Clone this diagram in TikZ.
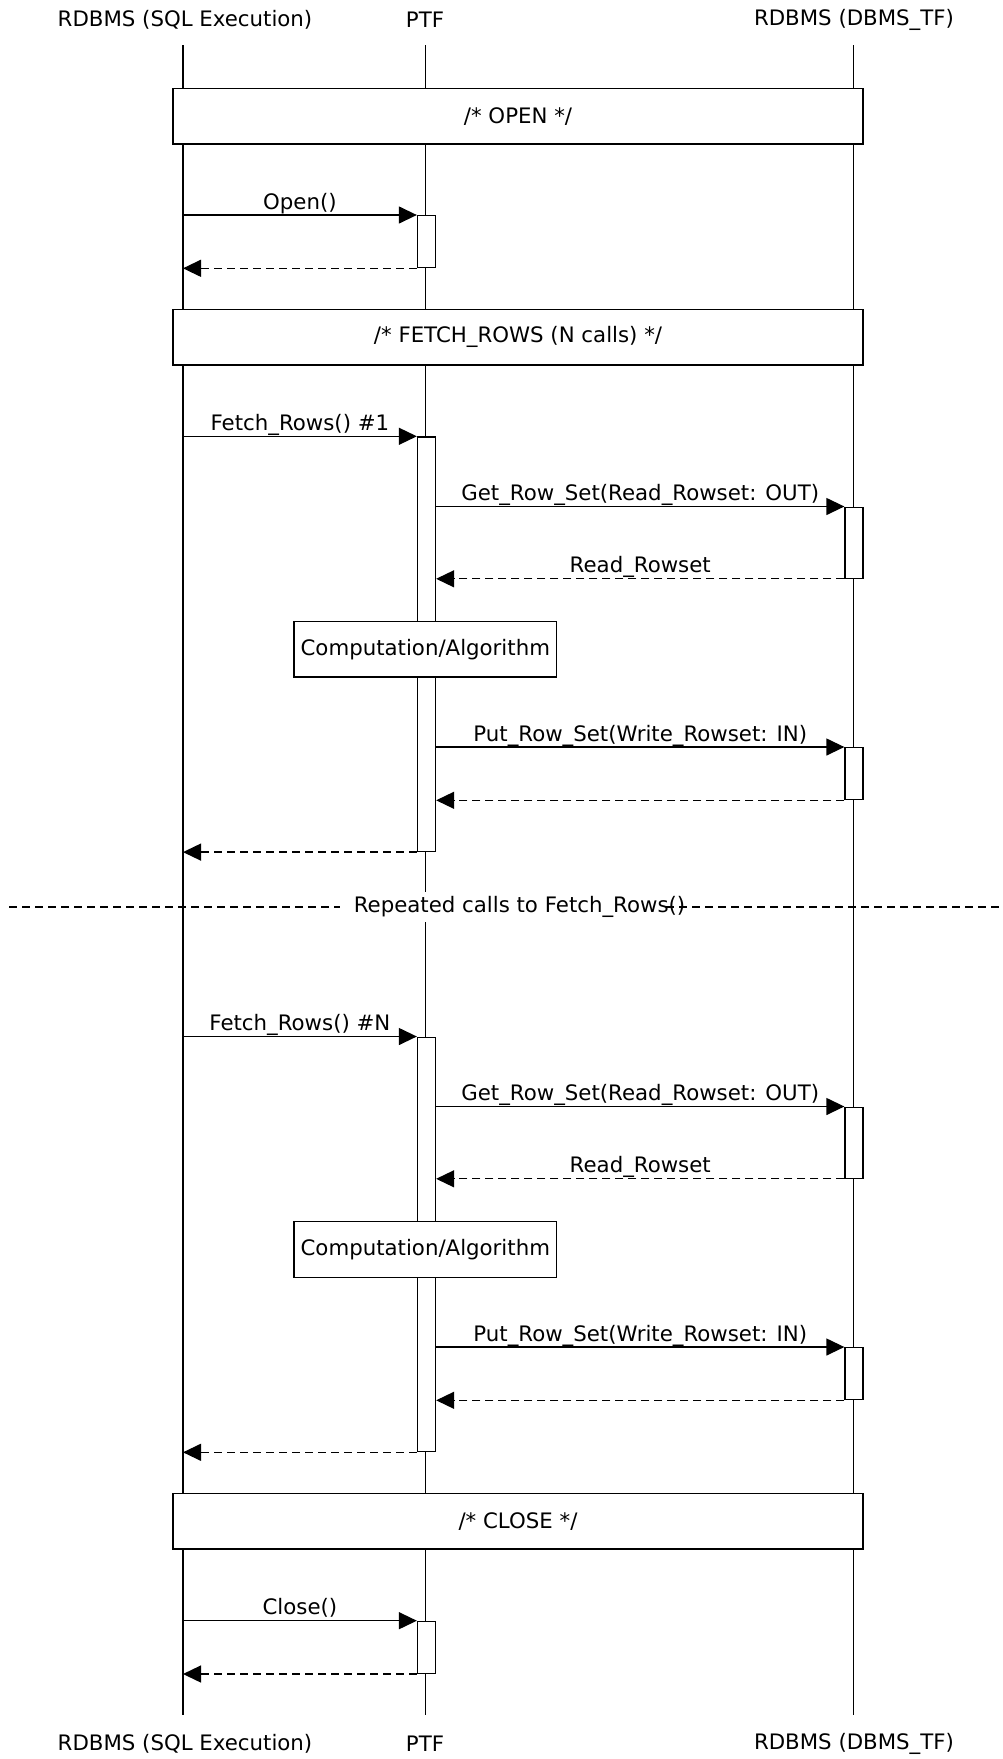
\documentclass[tikz,border=0pt]{standalone}
\usepackage{fontspec}
\setmainfont{DejaVu Sans}
\usetikzlibrary{arrows.meta}
\begin{document}
\begin{tikzpicture}[x=1pt,y=-1pt,
  every node/.style={font=\fontsize{21.3}{25}\selectfont},
  lbl/.style={inner sep=0pt},
  msg/.style={midway, anchor=base, yshift=6pt, inner sep=0pt},
  life/.style={line width=1.3pt},
  act/.style={draw, fill=white, line width=1.3pt, minimum width=18pt, inner sep=0pt, anchor=north},
  framebox/.style={draw, fill=white, line width=1.3pt, minimum width=690pt, minimum height=55.5pt, inner sep=0pt},
  compbox/.style={draw, fill=white, line width=1.3pt, minimum width=262.5pt, minimum height=55.5pt, inner sep=0pt},
  call/.style={line width=1.3pt, -{Triangle[length=18pt,width=17pt]}},
  ret/.style={call, dash pattern=on 8pt off 5pt},
  sepline/.style={line width=1.3pt, dash pattern=on 8pt off 5pt}
]
\useasboundingbox (0,0) rectangle (1003,1759);

% headers
\node[lbl] (hA) at (185,19.5) {RDBMS (SQL Execution)};
\node[lbl] (hB) at (425,19.5) {PTF};
\node[lbl] (hC) at (854,19.5) {RDBMS (DBMS\_TF)};
\node[lbl] (fA) at (185,1744) {RDBMS (SQL Execution)};
\node[lbl] (fB) at (425,1744) {PTF};
\node[lbl] (fC) at (854,1744) {RDBMS (DBMS\_TF)};

% lifelines
\coordinate (la0) at (183,45);   \coordinate (la1) at (183,1715);
\coordinate (lb0) at (425.5,45); \coordinate (lb1) at (425.5,1715);
\coordinate (lc0) at (853.5,45); \coordinate (lc1) at (853.5,1715);
\draw[life] (la0) -- (la1);
\draw[life] (lb0) -- (lb1);
\draw[life] (lc0) -- (lc1);

% activations
\node[act, minimum height=52pt]  (a1) at (426.5,215) {};
\node[act, minimum height=414.5pt] (a2) at (426.5,436.3) {};
\node[act, minimum height=71pt]  (a3) at (854,506.5) {};
\node[act, minimum height=52pt]  (a4) at (854,747) {};
\node[act, minimum height=414.5pt] (a5) at (426.5,1036.5) {};
\node[act, minimum height=71pt]  (a6) at (854,1106.5) {};
\node[act, minimum height=52pt]  (a7) at (854,1347) {};
\node[act, minimum height=52pt]  (a8) at (426.5,1620.7) {};

% frames
\node[framebox] (fOpen)  at (518,116.2) {/* OPEN */};
\node[framebox] (fFetch) at (518,337.2) {/* FETCH\_ROWS (N calls) */};
\node[framebox] (fClose) at (518,1521.2) {/* CLOSE */};
\node[compbox] (c1) at (425.3,649.3) {Computation/Algorithm};
\node[compbox] (c2) at (425.3,1249.5) {Computation/Algorithm};

% OPEN
\draw[call] (a1.north west -| la0) -- (a1.north west) node[msg] {Open()};
\draw[ret] (a1.south west) -- (a1.south west -| la0);

% FETCH #1
\draw[call] (a2.north west -| la0) -- (a2.north west) node[msg] {Fetch\_Rows() \#1};
\draw[call] (a3.north west -| a2.east) -- (a3.north west) node[msg] {Get\_Row\_Set(Read\_Rowset: OUT)};
\draw[ret] (a3.south west) -- (a3.south west -| a2.east) node[msg] {Read\_Rowset};
\draw[call] (a4.north west -| a2.east) -- (a4.north west) node[msg] {Put\_Row\_Set(Write\_Rowset: IN)};
\draw[ret] (a4.south west) -- (a4.south west -| a2.east);
\draw[ret] (a2.south west) -- (a2.south west -| la0);

% separator
\coordinate (sepL) at (9,907);
\coordinate (sepR) at (1003,907);
\node[fill=white, inner xsep=0pt, inner ysep=4pt] (sep) at (519.5,907) {Repeated calls to Fetch\_Rows()};
\draw[sepline] (sepL) -- ([xshift=-14pt]sep.west);
\draw[sepline] ([xshift=-19pt]sep.east) -- (sepR);

% FETCH #N
\draw[call] (a5.north west -| la0) -- (a5.north west) node[msg] {Fetch\_Rows() \#N};
\draw[call] (a6.north west -| a5.east) -- (a6.north west) node[msg] {Get\_Row\_Set(Read\_Rowset: OUT)};
\draw[ret] (a6.south west) -- (a6.south west -| a5.east) node[msg] {Read\_Rowset};
\draw[call] (a7.north west -| a5.east) -- (a7.north west) node[msg] {Put\_Row\_Set(Write\_Rowset: IN)};
\draw[ret] (a7.south west) -- (a7.south west -| a5.east);
\draw[ret] (a5.south west) -- (a5.south west -| la0);

% CLOSE
\draw[call] (a8.north west -| la0) -- (a8.north west) node[msg] {Close()};
\draw[ret] (a8.south west) -- (a8.south west -| la0);
\end{tikzpicture}
\end{document}
